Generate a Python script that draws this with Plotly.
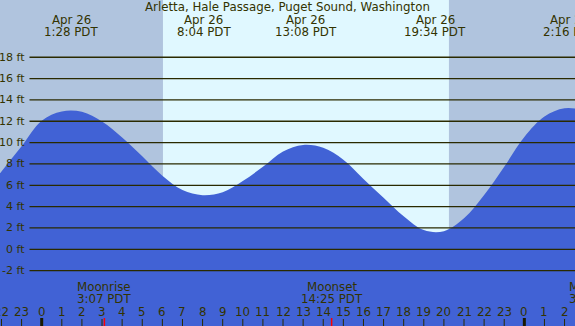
import plotly.graph_objects as go

# ---- data ----
hours = list(range(-3, 28))  # hours relative to Apr 26 00:00 PDT
tide_ft = [5.0, 7.3, 9.65, 12.05, 12.92, 12.88, 11.97, 10.47, 8.72, 6.9,
           5.55, 5.07, 5.35, 6.4, 7.73, 9.17, 9.78, 9.52, 8.4, 6.6,
           4.83, 3.1, 1.8, 1.7, 2.9, 5.08, 7.74, 10.53, 12.45, 13.22, 13.05]

extreme_hours = [1.467, 8.067, 13.133, 19.567, 26.267]
extreme_dates = ["Apr 26", "Apr 26", "Apr 26", "Apr 26", "Apr 27"]
extreme_times = ["1:28 PDT", "8:04 PDT", "13:08 PDT", "19:34 PDT", "2:16 PDT"]

moon_hours = [3.117, 14.417, 27.567]
moon_events = ["Moonrise", "Moonset", "Moonrise"]
moon_times = ["3:07 PDT", "14:25 PDT", "3:34 PDT"]

sunrise_hour = 6.03
sunset_hour = 20.25

ft_ticks = list(range(-2, 20, 2))
hour_ticks = list(range(-2, 27))
hour_labels = [str(h % 24) for h in hour_ticks]

title = "Arletta, Hale Passage, Puget Sound, Washington"

# ---- styling ----
W, H = 575, 326
XMIN, XMAX = -2.0736, 26.519
YMIN, YMAX = -7.188, 23.365
NIGHT = "#B0C4DE"
DAY = "#E0F8FF"
BLUE = "#4162D5"
TXT = "#333300"
FONT = "DejaVu Sans, sans-serif"


def py(px):
    return 1 - px / H


def pxx(h):
    return (h - XMIN) / (XMAX - XMIN)


fig = go.Figure()
fig.add_trace(go.Scatter(x=[hours[0], hours[-1]], y=[YMIN - 2, YMIN - 2],
                         mode="lines", line=dict(width=0), hoverinfo="skip",
                         showlegend=False))
fig.add_trace(go.Scatter(x=hours, y=tide_ft, mode="lines",
                         line=dict(width=0, shape="spline", color=BLUE),
                         fill="tonexty", fillcolor=BLUE, showlegend=False))

shapes = []
# day band
shapes.append(dict(type="rect", xref="x", yref="paper", x0=sunrise_hour, x1=sunset_hour,
                   y0=0, y1=1, fillcolor=DAY, line=dict(width=0), layer="below"))
# grid lines over the fill
for v in ft_ticks:
    shapes.append(dict(type="line", xref="paper", yref="y", x0=29.5 / W, x1=1,
                       y0=v, y1=v, line=dict(color="#2a2a00", width=1.3), layer="above"))
# hour ticks
for h in hour_ticks:
    if h % 24 == 0:
        shapes.append(dict(type="line", xref="x", yref="paper", x0=h, x1=h,
                           y0=0, y1=py(318), line=dict(color="#1a1a00", width=3)))
    else:
        shapes.append(dict(type="line", xref="x", yref="paper", x0=h, x1=h,
                           y0=0, y1=py(319), line=dict(color="#2a2a00", width=1)))
for h in moon_hours:
    if XMIN <= h <= XMAX:
        shapes.append(dict(type="line", xref="x", yref="paper", x0=h, x1=h,
                           y0=0, y1=py(318), line=dict(color="#ff0000", width=1.5)))

ann = []
f = dict(family=FONT, size=11.8, color=TXT)
fs = dict(family=FONT, size=11, color=TXT)
ann.append(dict(text=title, xref="paper", yref="paper", x=0.5, y=py(7.5),
                showarrow=False, font=f, xanchor="center", yanchor="middle"))
for h, d, t in zip(extreme_hours, extreme_dates, extreme_times):
    ann.append(dict(text=d, xref="paper", yref="paper", x=pxx(h), y=py(20),
                    showarrow=False, font=f, xanchor="center", yanchor="middle"))
    ann.append(dict(text=t, xref="paper", yref="paper", x=pxx(h), y=py(32),
                    showarrow=False, font=f, xanchor="center", yanchor="middle"))
for h, e, t in zip(moon_hours, moon_events, moon_times):
    ann.append(dict(text=e, xref="paper", yref="paper", x=pxx(h), y=py(287),
                    showarrow=False, font=f, xanchor="center", yanchor="middle"))
    ann.append(dict(text=t, xref="paper", yref="paper", x=pxx(h), y=py(299),
                    showarrow=False, font=f, xanchor="center", yanchor="middle"))
for h, lab in zip(hour_ticks, hour_labels):
    ann.append(dict(text=lab, xref="paper", yref="paper", x=pxx(h), y=py(311.5),
                    showarrow=False, font=f, xanchor="center", yanchor="middle"))
for v in ft_ticks:
    ann.append(dict(text=f"{v} ft", xref="paper", yref="y", x=27 / W, y=v,
                    showarrow=False, font=fs, xanchor="right", yanchor="middle"))

fig.update_layout(
    width=W, height=H, margin=dict(l=0, r=0, t=0, b=0),
    paper_bgcolor=NIGHT, plot_bgcolor=NIGHT,
    xaxis=dict(range=[XMIN, XMAX], visible=False, fixedrange=True),
    yaxis=dict(range=[YMIN, YMAX], visible=False, fixedrange=True),
    shapes=shapes, annotations=ann, showlegend=False,
)
fig.write_html("out.html", config={"displayModeBar": False},
               post_script="document.body.style.margin='0';document.body.style.padding='0';")
